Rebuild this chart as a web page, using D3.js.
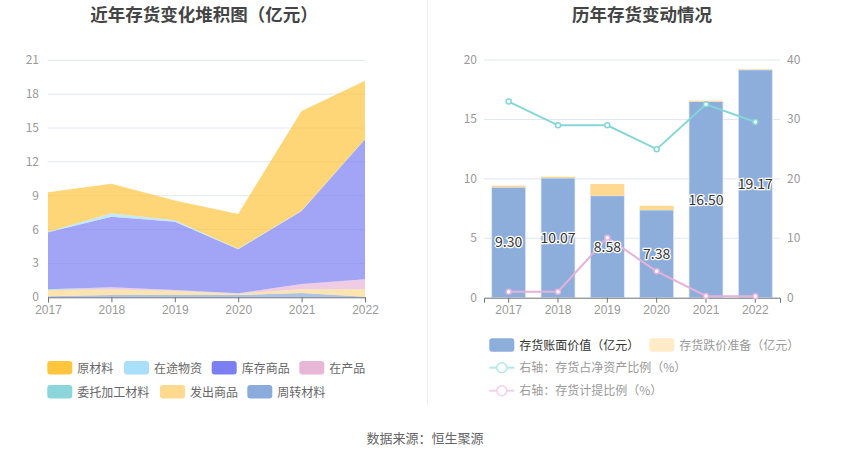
<!DOCTYPE html>
<html><head><meta charset="utf-8">
<script src="https://cdn.jsdelivr.net/npm/d3@7/dist/d3.min.js"></script>
<style>body{margin:0;background:#fff;font-family:"Noto Sans CJK SC","Noto Sans",sans-serif;}</style>
</head><body><svg id="c" width="850" height="459"></svg>
<script>
const years = ["2017","2018","2019","2020","2021","2022"];
// left stacked area (亿元)
const seriesNames = ["原材料","在途物资","库存商品","在产品","委托加工材料","发出商品","周转材料"];
const seriesColors = ["#FFC53D","#A8DFFA","#7B7FF2","#E8B7D8","#8AD6DA","#FFD98E","#8AABDB"];
const rawMaterial = [3.49, 2.63, 1.76, 3.08, 8.80, 5.15];
const inTransit   = [0.05, 0.30, 0.12, 0.05, 0.05, 0.02];
const finished    = [5.05, 6.25, 6.05, 3.90, 6.47, 12.40];
const wip         = [0.00, 0.17, 0.08, 0.02, 0.46, 0.88];
const outsourced  = [0.06, 0.02, 0.02, 0.01, 0.01, 0.01];
const shipped     = [0.55, 0.50, 0.35, 0.12, 0.33, 0.67];
const turnover    = [0.10, 0.20, 0.20, 0.20, 0.38, 0.05];
const leftTicks = [0,3,6,9,12,15,18,21];
// right chart
const bookValue = [9.30, 10.07, 8.58, 7.38, 16.50, 19.17];
const impairment = [0.13, 0.11, 0.99, 0.36, 0.08, 0.05];
const ratioNetAssets = [33.0, 29.0, 29.0, 25.0, 32.55, 29.57];
const ratioProvision = [1.0, 1.0, 10.1, 4.44, 0.29, 0.26];
const rightTicksL = [0,5,10,15,20];
const rightTicksR = [0,10,20,30,40];

const svg = d3.select("#c");
const gray = "#999";
const gridC = "#E0E6F1";
const axisC = "#6E7079";

// Titles
svg.append("text").attr("x",204).attr("y",21).attr("text-anchor","middle")
  .attr("font-size",17.5).attr("font-weight","bold").attr("fill","#444").text("近年存货变化堆积图（亿元）");
svg.append("text").attr("x",642).attr("y",21).attr("text-anchor","middle")
  .attr("font-size",17.5).attr("font-weight","bold").attr("fill","#444").text("历年存货变动情况");
// divider
svg.append("line").attr("x1",427.5).attr("x2",427.5).attr("y1",0).attr("y2",405).attr("stroke","#eee");
// source
svg.append("text").attr("x",425).attr("y",443).attr("text-anchor","middle").attr("font-size",13).attr("fill","#666").text("数据来源：恒生聚源");

// ---------- Left chart ----------
const xL = d3.scalePoint().domain(years).range([48,365]);
const yL = d3.scaleLinear().domain([0,21]).range([297.3,60.3]);
const gL = svg.append("g");
gL.selectAll(".g").data(leftTicks.filter(d=>d>0)).join("line")
  .attr("x1",48).attr("x2",365).attr("y1",d=>yL(d)).attr("y2",d=>yL(d)).attr("stroke",gridC);
gL.selectAll(".yl").data(leftTicks).join("text").attr("x",39).attr("y",d=>yL(d)+4)
  .attr("text-anchor","end").attr("font-size",12).attr("fill",gray).text(d=>d);

const stackData = years.map((y,i)=>({year:y,
  "周转材料":turnover[i],"发出商品":shipped[i],"委托加工材料":outsourced[i],"在产品":wip[i],
  "库存商品":finished[i],"在途物资":inTransit[i],"原材料":rawMaterial[i]}));
const order = seriesNames.slice().reverse();
const stacked = d3.stack().keys(order)(stackData);
const area = d3.area().x(d=>xL(d.data.year)).y0(d=>yL(d[0])).y1(d=>yL(d[1]));
gL.selectAll(".a").data(stacked).join("path")
  .attr("d",area).attr("fill",d=>seriesColors[seriesNames.indexOf(d.key)]).attr("fill-opacity",0.7);

const axL = gL.append("g").attr("transform","translate(0,297.3)")
  .call(d3.axisBottom(xL).tickSize(5).tickPadding(3));
axL.select(".domain").attr("stroke",axisC);
axL.selectAll(".tick line").attr("stroke",axisC);
axL.selectAll("text").attr("font-size",12).attr("fill",gray).attr("font-family","inherit");

// left legend
const legL = [
  {n:"原材料",x:47.3,y:361},{n:"在途物资",x:124,y:361},{n:"库存商品",x:211.7,y:361},{n:"在产品",x:299.3,y:361},
  {n:"委托加工材料",x:47.3,y:385},{n:"发出商品",x:160,y:385},{n:"周转材料",x:247.3,y:385}];
legL.forEach(d=>{
  const c = seriesColors[seriesNames.indexOf(d.n)];
  svg.append("rect").attr("x",d.x).attr("y",d.y).attr("width",25).attr("height",13.5).attr("rx",3).attr("fill",c);
  svg.append("text").attr("x",d.x+30).attr("y",d.y+11.5).attr("font-size",12).attr("fill","#666").text(d.n);
});

// ---------- Right chart ----------
const xR = d3.scaleBand().domain(years).range([484,780]);
const yR = d3.scaleLinear().domain([0,20]).range([297.7,60]);
const yR2 = d3.scaleLinear().domain([0,40]).range([297.7,60]);
const gR = svg.append("g");
gR.selectAll(".g").data(rightTicksL.filter(d=>d>0)).join("line")
  .attr("x1",484).attr("x2",780).attr("y1",d=>yR(d)).attr("y2",d=>yR(d)).attr("stroke",gridC);
gR.selectAll(".yl").data(rightTicksL).join("text").attr("x",477).attr("y",d=>yR(d)+4)
  .attr("text-anchor","end").attr("font-size",12).attr("fill",gray).text(d=>d);
gR.selectAll(".yr").data(rightTicksR).join("text").attr("x",787).attr("y",d=>yR2(d)+4)
  .attr("text-anchor","start").attr("font-size",12).attr("fill",gray).text(d=>d);

const bw = 34;
const cx = y => xR(y) + xR.bandwidth()/2;
gR.selectAll(".b1").data(years).join("rect")
  .attr("x",y=>cx(y)-bw/2).attr("width",bw)
  .attr("y",(y,i)=>yR(bookValue[i])).attr("height",(y,i)=>yR(0)-yR(bookValue[i]))
  .attr("fill","#8DADDB").attr("stroke","#E3EBF7").attr("stroke-width",0.8);
gR.selectAll(".b2").data(years).join("rect")
  .attr("x",y=>cx(y)-bw/2).attr("width",bw)
  .attr("y",(y,i)=>yR(bookValue[i]+impairment[i])).attr("height",(y,i)=>yR(bookValue[i])-yR(bookValue[i]+impairment[i]))
  .attr("fill","#FFD892");

const axR = gR.append("g").attr("transform","translate(0,297.7)")
  .call(d3.axisBottom(xR).tickSize(5).tickPadding(3));
axR.select(".domain").attr("stroke",axisC);
axR.selectAll(".tick line").attr("stroke",axisC);
axR.selectAll("text").attr("font-size",12).attr("fill",gray).attr("font-family","inherit");

const line = d3.line().x((d,i)=>cx(years[i])).y(d=>yR2(d));
function drawLine(vals,color){
  gR.append("path").attr("d",line(vals)).attr("fill","none").attr("stroke",color).attr("stroke-width",2);
  gR.selectAll(null).data(vals).join("circle").attr("cx",(d,i)=>cx(years[i])).attr("cy",d=>yR2(d))
    .attr("r",2.5).attr("fill","#fff").attr("stroke",color).attr("stroke-width",1.5);
}
drawLine(ratioNetAssets,"#84D6D8");
drawLine(ratioProvision,"#E6B1DA");

// bar labels
gR.selectAll(".lb").data(years).join("text")
  .attr("x",y=>cx(y)).attr("y",(y,i)=>(yR(0)+yR(bookValue[i]))/2+5)
  .attr("text-anchor","middle").attr("font-size",14).attr("fill","#333")
  .attr("stroke","#fff").attr("stroke-width",2.5).attr("paint-order","stroke")
  .text((y,i)=>bookValue[i].toFixed(2));

// right legend
svg.append("rect").attr("x",489.3).attr("y",338.3).attr("width",25).attr("height",13.5).attr("rx",3).attr("fill","#8DADDB");
svg.append("text").attr("x",519.3).attr("y",349.8).attr("font-size",12).attr("fill","#333").text("存货账面价值（亿元）");
svg.append("rect").attr("x",649.3).attr("y",338.3).attr("width",25).attr("height",13.5).attr("rx",3).attr("fill","#FFEBC8");
svg.append("text").attr("x",679.3).attr("y",349.8).attr("font-size",12).attr("fill","#999").text("存货跌价准备（亿元）");
[[367.7,"#B3E8E9","右轴：存货占净资产比例（%）"],[390.7,"#F2CFEA","右轴：存货计提比例（%）"]].forEach(([y,c,t])=>{
  svg.append("line").attr("x1",489.3).attr("x2",514.3).attr("y1",y).attr("y2",y).attr("stroke",c).attr("stroke-width",2);
  svg.append("circle").attr("cx",501.8).attr("cy",y).attr("r",5).attr("fill","#fff").attr("stroke",c).attr("stroke-width",1.5);
  svg.append("text").attr("x",519.3).attr("y",y+4.5).attr("font-size",12).attr("fill","#999").text(t);
});
</script></body></html>
